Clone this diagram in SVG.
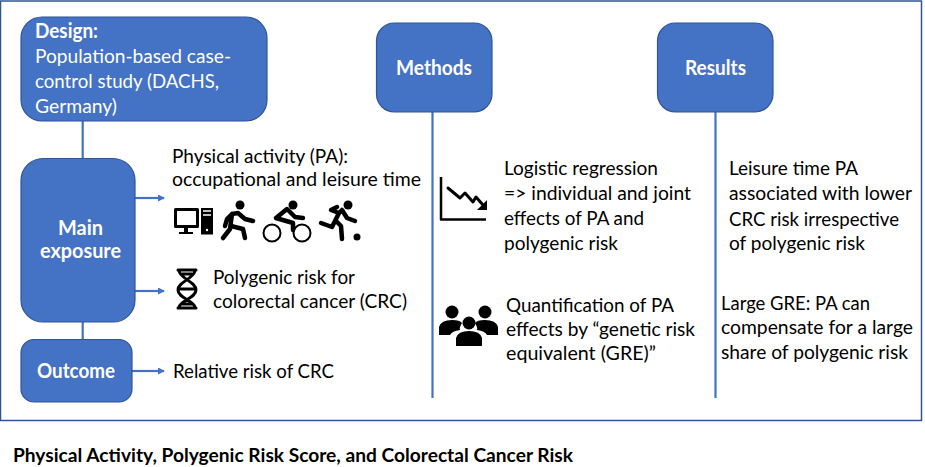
<svg xmlns="http://www.w3.org/2000/svg" width="925" height="467" viewBox="0 0 925 467">
<style>
text{font-family:Lato,"Open Sans","Liberation Sans",sans-serif;font-size:19.500px;fill:#000}
.w{fill:#fff}.b{font-weight:700;font-size:20.500px}
.box{fill:#4472c4;stroke:#2f5597;stroke-width:1.2}
.ln{stroke:#4472c4;stroke-width:2.200;fill:none}
.ic{fill:#000;stroke:none}.st{fill:none;stroke:#000;stroke-linecap:round;stroke-linejoin:round}
</style>
<defs><marker id="a" markerWidth="8" markerHeight="8" refX="6" refY="3.5" orient="auto" markerUnits="userSpaceOnUse"><path d="M0 0L7 3.5L0 7z" fill="#4472c4"/></marker></defs>
<rect x="0.5" y="1" width="921" height="419.500" fill="#fff" stroke="#2f5597" stroke-width="1.500"/>
<g id="connectors">
<path class="ln" d="M82.700 121V159M82.700 322V340"/>
<path class="ln" d="M135 198H164" marker-end="url(#a)"/>
<path class="ln" d="M135 291H164" marker-end="url(#a)"/>
<path class="ln" d="M132 371H164" marker-end="url(#a)"/>
<path class="ln" d="M432.500 112V398M715.500 112V398"/>
</g>
<g id="design"><rect class="box" x="21" y="17" width="246" height="104" rx="21"/>
<text class="w b" x="35" y="38" textLength="63" lengthAdjust="spacingAndGlyphs">Design:</text>
<text class="w" x="35" y="63" textLength="196" lengthAdjust="spacingAndGlyphs">Population-based case-</text>
<text class="w" x="35" y="88" textLength="184" lengthAdjust="spacingAndGlyphs">control study (DACHS,</text>
<text class="w" x="35" y="113" textLength="82" lengthAdjust="spacingAndGlyphs">Germany)</text></g>
<g id="methods"><rect class="box" x="376.500" y="23" width="115.500" height="89" rx="18"/>
<text class="w b" x="396" y="75" textLength="76" lengthAdjust="spacingAndGlyphs">Methods</text></g>
<g id="results"><rect class="box" x="657.500" y="23" width="115.500" height="89" rx="18"/>
<text class="w b" x="685" y="75" textLength="61" lengthAdjust="spacingAndGlyphs">Results</text></g>
<g id="exposure"><rect class="box" x="21" y="158.500" width="114" height="163.500" rx="22"/>
<text class="w b" x="58" y="235" textLength="45" lengthAdjust="spacingAndGlyphs">Main</text>
<text class="w b" x="40" y="258" textLength="81" lengthAdjust="spacingAndGlyphs">exposure</text></g>
<g id="outcome"><rect class="box" x="21" y="339.500" width="111" height="62.500" rx="13"/>
<text class="w b" x="37" y="378" textLength="78" lengthAdjust="spacingAndGlyphs">Outcome</text></g>
<g id="pa"><text x="172" y="163" textLength="176" lengthAdjust="spacingAndGlyphs">Physical activity (PA):</text>
<text x="172" y="186" textLength="249" lengthAdjust="spacingAndGlyphs">occupational and leisure time</text>
<rect class="st" x="175.500" y="209.500" width="22" height="17" stroke-width="3"/><path class="ic" d="M184 227h4v5h5v2h-14v-2h5z"/>
<rect class="ic" x="201" y="208" width="12" height="26.500"/><path d="M203 211h8M203 215h8" stroke="#fff" stroke-width="1.500"/><circle cx="207" cy="230" r="1.200" fill="#fff"/>
<circle class="ic" cx="240" cy="205" r="4.500"/><path class="st" stroke-width="4.500" d="M223 238L230 229L232 214L238 213L245 219L253 221M232 214L227 219L225 226M231 226L243 229L245 238"/>
<circle class="ic" cx="293" cy="205" r="4.500"/><path class="st" stroke-width="4.500" d="M276 218L287 209L295 217L303 218M276 218L293 223V230"/>
<g class="st" stroke-width="2"><circle cx="272" cy="233" r="8.500"/><circle cx="302" cy="233" r="8.500"/></g>
<circle class="ic" cx="348" cy="205" r="4.500"/><path class="st" stroke-width="4.500" d="M321 223L332 227L339 213L342 210L347 218L355 221M339 213L331 210L337 207M337 222L341 226L342 239"/><circle class="ic" cx="357" cy="237" r="3.500"/></g>
<g id="polygenic"><text x="213" y="284" textLength="142" lengthAdjust="spacingAndGlyphs">Polygenic risk for</text>
<text x="213" y="308" textLength="194" lengthAdjust="spacingAndGlyphs">colorectal cancer (CRC)</text>
<path class="st" stroke-width="3" d="M178 270H196M178 308H196M179 271C181 279 196 282 196 290C196 298 181 300 179 307M195 271C193 279 178 282 178 290C178 298 193 300 195 307M182 274H192M180 289H194M182 304H192"/></g>
<g id="rr"><text x="173" y="378" textLength="161" lengthAdjust="spacingAndGlyphs">Relative risk of CRC</text></g>
<g id="logit"><text x="504" y="175" textLength="154" lengthAdjust="spacingAndGlyphs">Logistic regression</text>
<text x="504" y="200" textLength="187" lengthAdjust="spacingAndGlyphs">=&gt; individual and joint</text>
<text x="504" y="225" textLength="140" lengthAdjust="spacingAndGlyphs">effects of PA and</text>
<text x="504" y="250" textLength="114" lengthAdjust="spacingAndGlyphs">polygenic risk</text>
<path class="st" stroke-width="2.500" style="stroke-linecap:butt" d="M441 177V219.500H486"/>
<path class="st" stroke-width="3" d="M448 188L460 198L465 193L473 202L476 197L483 205"/><path class="ic" d="M487 200V210H477z"/></g>
<g id="gre"><text x="506" y="312" textLength="168" lengthAdjust="spacingAndGlyphs">Quantification of PA</text>
<text x="506" y="336" textLength="189" lengthAdjust="spacingAndGlyphs">effects by “genetic risk</text>
<text x="506" y="360" textLength="150" lengthAdjust="spacingAndGlyphs">equivalent (GRE)”</text>
<circle class="ic" cx="452" cy="312" r="6.500"/><circle class="ic" cx="485" cy="312" r="6.500"/><circle class="ic" cx="469" cy="323" r="6.500"/>
<path class="ic" d="M439 335V327Q441 320 452 320Q460 320 462 323Q459 328 460 330Q452 331 450 335zM498 335V327Q496 320 485 320Q477 320 475 323Q478 328 477 330Q485 331 487 335z"/>
<path class="ic" d="M456 346V338Q458 331 469 331Q480 331 482 338V346z"/></g>
<g id="res1"><text x="729" y="175" textLength="129" lengthAdjust="spacingAndGlyphs">Leisure time PA</text>
<text x="729" y="200" textLength="183" lengthAdjust="spacingAndGlyphs">associated with lower</text>
<text x="729" y="226" textLength="170" lengthAdjust="spacingAndGlyphs">CRC risk irrespective</text>
<text x="729" y="250" textLength="136" lengthAdjust="spacingAndGlyphs">of polygenic risk</text></g>
<g id="res2"><text x="721" y="310" textLength="149" lengthAdjust="spacingAndGlyphs">Large GRE: PA can</text>
<text x="721" y="334" textLength="192" lengthAdjust="spacingAndGlyphs">compensate for a large</text>
<text x="721" y="359" textLength="187" lengthAdjust="spacingAndGlyphs">share of polygenic risk</text></g>
<text class="b" x="13" y="462" style="font-size:18px" textLength="560" lengthAdjust="spacingAndGlyphs">Physical Activity, Polygenic Risk Score, and Colorectal Cancer Risk</text>
</svg>
